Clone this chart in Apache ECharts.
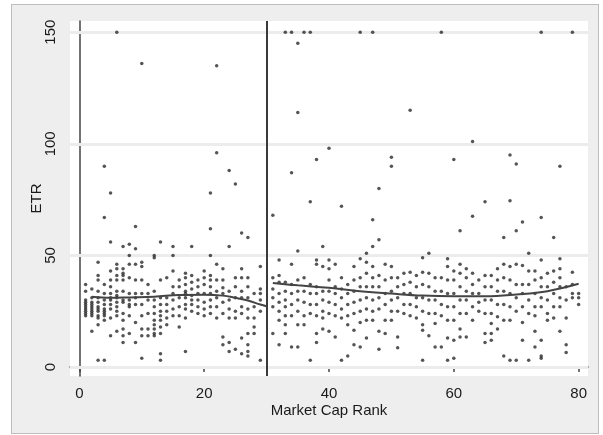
<!DOCTYPE html>
<html>
<head>
<meta charset="utf-8">
<script src="https://cdn.jsdelivr.net/npm/echarts@6/dist/echarts.min.js"></script>
<style>
  html, body { margin: 0; padding: 0; background: #ffffff; }
  #wrap { position: relative; width: 603px; height: 435px; }
  #frame {
    position: absolute; left: 11px; top: 4px; width: 586px; height: 428px;
    background: #eeeeee; border: 1px solid #bdbdbd;
  }
  #chart { position: absolute; left: 0; top: 0; width: 603px; height: 435px; }
</style>
</head>
<body>
<div id="wrap">
  <div id="frame"></div>
  <div id="chart"></div>
</div>
<script>
// ETR observations grouped by market cap rank (index 0 = rank 1)
const etrByRank = [
  [37, 34, 30, 29, 28, 27, 26, 25, 24, 23],
  [35, 31, 29, 28, 27, 26, 25, 24, 23, 16],
  [47, 41, 39, 34, 31, 29, 27, 26, 25, 23, 22, 19, 3],
  [90, 67, 37, 33, 30, 28, 26, 25, 24, 23, 21, 3],
  [78, 56, 43, 39, 36, 33, 31, 30, 28, 26, 22, 14],
  [150, 46, 44, 41, 39, 34, 32, 31, 29, 27, 25, 23, 16],
  [54, 44, 42, 41, 39, 34, 30, 29, 24, 21, 17, 14, 11],
  [55, 50, 46, 40, 33, 30, 28, 27, 23, 15],
  [63, 53, 46, 39, 33, 31, 28, 20, 11],
  [136, 47, 45, 39, 33, 28, 23, 17, 14, 4],
  [37, 33, 30, 24, 17, 14],
  [50, 49, 34, 30, 27, 24, 21, 19, 17, 15, 14],
  [56, 39, 31, 28, 25, 23, 21, 18, 15, 6, 3],
  [40, 31, 28, 25, 22, 19],
  [54, 50, 43, 36, 33, 30, 26, 23],
  [39, 36, 31, 27, 23, 18],
  [42, 40, 37, 34, 33, 31, 28, 26, 22, 7],
  [54, 41, 38, 35, 32, 30, 28, 25],
  [39, 36, 33, 30, 27, 24],
  [43, 40, 37, 33, 29, 26, 23],
  [78, 62, 50, 41, 39, 36, 33, 30, 27, 24],
  [135, 96, 46, 39, 34, 31, 27, 22],
  [44, 39, 35.5, 33, 29, 24, 13.5, 10],
  [88, 54, 34, 30, 26, 22, 11, 7],
  [82, 40, 36, 31, 25, 22, 8],
  [60, 44, 40, 34, 31, 27, 24, 13, 6],
  [58, 40, 36, 31, 26, 22, 15, 10, 7, 5],
  [33, 27, 22, 18, 15],
  [45, 35, 33, 30, 25, 3],
  [],
  [68, 40, 35, 31, 27, 15],
  [48, 41, 38, 33, 29, 25, 21, 10],
  [150, 38, 34, 30, 27, 23, 19, 15],
  [150, 87, 46, 37, 33, 28, 23, 9],
  [145, 114, 52, 39, 34, 30, 25, 19, 9],
  [150, 40, 34, 29, 23, 19],
  [150, 74, 37, 33, 28, 24, 3],
  [93, 48, 46, 36, 33, 28, 23, 15, 11],
  [54, 45, 34, 30, 25, 22, 17],
  [98, 48, 44, 39, 34, 29, 24, 16],
  [46, 36, 33, 28, 23, 13.5],
  [72, 40, 35, 31, 26, 22, 3],
  [37, 33, 28, 23, 19, 5],
  [45, 39, 34, 29, 24, 16.5, 10],
  [150, 48.5, 40, 36, 30, 25, 20, 9],
  [51, 47, 42, 36, 31, 26, 21, 13],
  [150, 66, 54, 45, 40, 36, 30, 25, 21],
  [80, 57, 41, 36, 31, 26, 16, 8],
  [46, 39, 33, 28, 21, 15],
  [94, 90, 45, 40, 34, 30, 25, 21],
  [40, 36, 31, 25, 13.5, 8.6],
  [42, 37, 33, 28, 24],
  [115, 42.5, 38, 33, 28, 23],
  [41, 36, 31, 27, 22],
  [49, 42.5, 37, 31, 25, 19, 16.5, 3],
  [51, 42, 36, 30, 24, 14],
  [40, 34, 30, 24, 19.5, 9],
  [150, 40, 34, 28, 23, 9],
  [48.5, 45, 39, 33, 27, 21, 13, 3],
  [93, 43, 39, 33, 27, 21, 12, 4],
  [61, 46, 42, 36, 30, 24, 17, 13.5],
  [44, 40, 34, 30, 24, 13.5],
  [101, 67.5, 42, 37, 33, 27, 21],
  [39, 33, 29, 25],
  [74, 41, 36, 30, 24, 15, 11],
  [41, 36, 30, 24, 19.5, 15, 12],
  [44, 39, 34, 28, 22.5, 17],
  [58, 46, 40, 34, 28, 21, 5],
  [95, 74.5, 45, 39, 33, 27, 21, 3],
  [91, 61, 46, 37, 31, 25, 3],
  [65, 45.5, 37, 33, 27, 20, 12],
  [51, 43, 37, 30, 24, 3],
  [43, 39, 33, 27, 23, 16, 9],
  [150, 67, 48, 40, 36, 31, 27, 12, 5, 4],
  [42, 36, 30, 24, 21],
  [58, 43, 38, 33, 27, 22],
  [90, 48.5, 44, 40, 36, 31, 27, 16],
  [36, 30, 22, 10, 6.5],
  [150, 42.5, 37, 33, 31],
  [33, 31, 28]
];

// Smoothed (lowess) fits on each side of the rank-30 cutoff
const fitLeftRank = [2, 5, 8, 12, 16, 20, 23, 25, 27, 29, 30];
const fitLeftEtr  = [31.5, 31, 31.2, 31.5, 32.3, 32.4, 32, 31, 29.8, 28, 27.2];
const fitRightRank = [31, 35, 40, 45, 50, 55, 60, 65, 70, 75, 80];
const fitRightEtr  = [37.6, 36.6, 35.5, 34, 32.9, 32, 31.7, 31.7, 32.5, 34, 37.3];

const xTicks = [0, 20, 40, 60, 80];
const yTicks = [0, 50, 100, 150];
const cutoffRank = 30;

const points = [];
etrByRank.forEach((vals, i) => vals.forEach(v => points.push([i + 1, v])));

const zip = (a, b) => a.map((x, i) => [x, b[i]]);

const axisText = { color: '#1a1a1a', fontFamily: 'Liberation Sans, Arial, sans-serif', fontSize: 15 };

const chart = echarts.init(document.getElementById('chart'), null, { renderer: 'canvas' });
chart.setOption({
  backgroundColor: 'transparent',
  animation: false,
  grid: {
    left: 70, top: 21, right: 15, bottom: 59,
    show: true, backgroundColor: '#ffffff', borderWidth: 0
  },
  xAxis: {
    type: 'value', min: -1.5, max: 81.5,
    name: 'Market Cap Rank', nameLocation: 'middle', nameGap: 27, nameMoveOverlap: false,
    nameTextStyle: axisText,
    axisLine: { show: true, lineStyle: { color: '#444', width: 1.5 } },
    axisTick: { show: true, customValues: xTicks, length: 5, lineStyle: { color: '#444', width: 1.5 } },
    axisLabel: { customValues: xTicks, margin: 10, ...axisText },
    splitLine: { show: false }
  },
  yAxis: {
    type: 'value', min: -4, max: 155,
    name: 'ETR', nameLocation: 'middle', nameGap: 26, nameRotate: 90, nameMoveOverlap: false,
    nameTextStyle: axisText,
    axisLine: { show: true, lineStyle: { color: '#444', width: 1.5 } },
    axisTick: { show: true, customValues: yTicks, length: 5, lineStyle: { color: '#444', width: 1.5 } },
    axisLabel: { customValues: yTicks, rotate: 90, margin: 12, ...axisText },
    splitLine: { show: false }
  },
  series: [
    {
      type: 'line', data: [], silent: true, z: 1,
      markLine: {
        silent: true, symbol: 'none', label: { show: false }, z: 1,
        lineStyle: { color: '#ececec', width: 3, type: 'solid' },
        data: yTicks.map(v => ({ yAxis: v }))
      }
    },
    {
      type: 'scatter', data: points, symbol: 'circle', symbolSize: 3.5,
      itemStyle: { color: '#2a2a2a' }, z: 6
    },
    {
      type: 'line', data: zip(fitLeftRank, fitLeftEtr), smooth: 0.4, showSymbol: false,
      lineStyle: { color: '#444', width: 2 }, z: 7
    },
    {
      type: 'line', data: zip(fitRightRank, fitRightEtr), smooth: 0.4, showSymbol: false,
      lineStyle: { color: '#444', width: 2 }, z: 7,
      markLine: {
        silent: true, symbol: 'none', label: { show: false }, z: 7,
        lineStyle: { color: '#3a3a3a', width: 2, type: 'solid' },
        data: [{ xAxis: cutoffRank }]
      }
    }
  ]
});
</script>
</body>
</html>
